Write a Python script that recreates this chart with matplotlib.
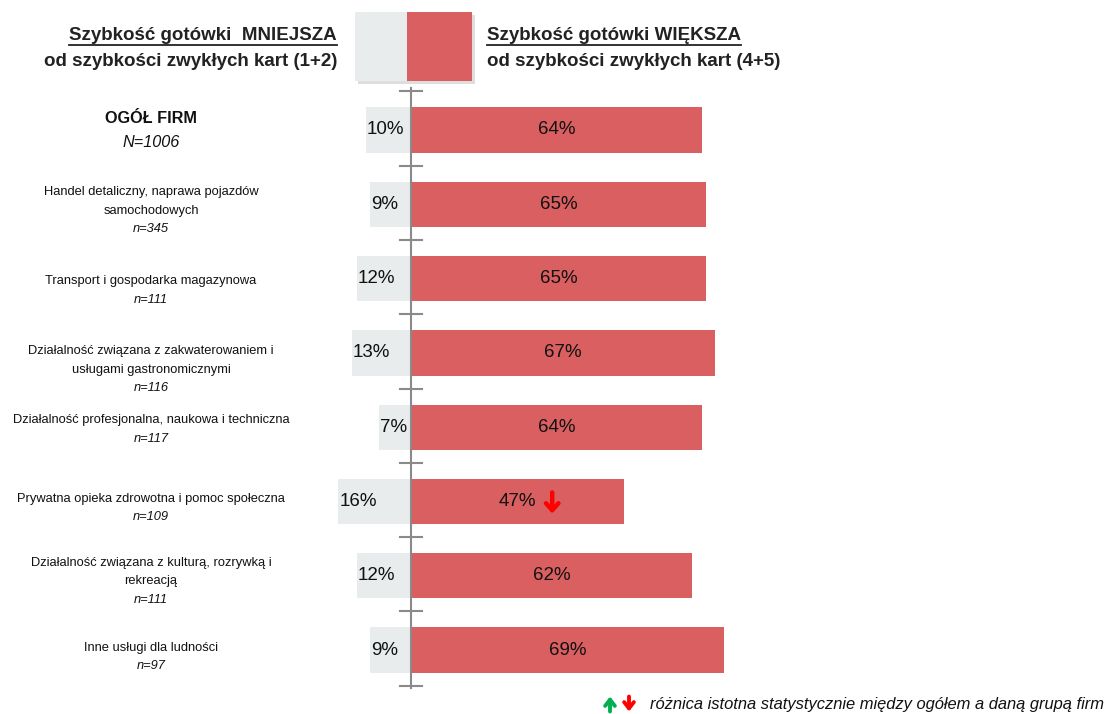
import matplotlib
matplotlib.use("Agg")
import matplotlib.pyplot as plt
from matplotlib.patches import Rectangle
from matplotlib.lines import Line2D

plt.rcParams['font.family'] = ['Liberation Sans', 'DejaVu Sans']

# ---------------- data ----------------
categories = [
    "OGÓŁ FIRM",
    "Handel detaliczny, naprawa pojazdów\nsamochodowych",
    "Transport i gospodarka magazynowa",
    "Działalność związana z zakwaterowaniem i\nusługami gastronomicznymi",
    "Działalność profesjonalna, naukowa i techniczna",
    "Prywatna opieka zdrowotna i pomoc społeczna",
    "Działalność związana z kulturą, rozrywką i\nrekreacją",
    "Inne usługi dla ludności",
]
sample_sizes = ["N=1006", "n=345", "n=111", "n=116", "n=117", "n=109", "n=111", "n=97"]
less_share = [10, 9, 12, 13, 7, 16, 12, 9]       # (1+2)
more_share = [64, 65, 65, 67, 64, 47, 62, 69]    # (4+5)
significance = [None, None, None, None, None, "down", None, None]

legend_less = "Szybkość gotówki  MNIEJSZA"
legend_less2 = "od szybkości zwykłych kart (1+2)"
legend_more = "Szybkość gotówki WIĘKSZA"
legend_more2 = "od szybkości zwykłych kart (4+5)"
footnote = "różnica istotna statystycznie między ogółem a daną grupą firm"

# ---------------- style ----------------
RED = "#D95F60"
GREY = "#E9ECEC"
AXC = "#8A8A8A"
TXT = "#111111"
W, H = 1109, 714
X0, XS = 411.0, 4.54     # pixel of 0 %, pixels per %
Y0, YS = 130.0, 74.3     # pixel of first row centre, pixels per row

fig = plt.figure(figsize=(W / 100, H / 100), dpi=100)
ax = fig.add_axes([0, 0, 1, 1])
ax.set_xlim(-X0 / XS, (W - X0) / XS)
ax.set_ylim((H - Y0) / YS, -Y0 / YS)
ax.axis("off")

def px(x):
    return (x - X0) / XS

def py(y):
    return (y - Y0) / YS

n = len(categories)
rows = list(range(n))
bh = 0.61

ax.barh(rows, [-v for v in less_share], height=bh, color=GREY, zorder=2)
ax.barh(rows, more_share, height=bh, color=RED, zorder=2)

# axis line and ticks
ax.plot([0, 0], [py(88), py(688)], color=AXC, lw=1.5, zorder=3)
for i in range(n + 1):
    t = i - 0.52
    ax.plot([px(400), px(422)], [t, t], color=AXC, lw=1.5, zorder=3)

def arrow(x, y, direction, color, size_px, lw=2.8, hw=0.35, hl=0.45):
    """Thick chevron arrow centred at data (x, y)."""
    h = size_px / YS / 2
    if direction == "down":
        start, end = (x, y - h), (x, y + h)
    else:
        start, end = (x, y + h), (x, y - h)
    ax.annotate("", xy=end, xytext=start,
                arrowprops=dict(arrowstyle=f"->,head_length={hl},head_width={hw}",
                                color=color, lw=lw, shrinkA=0, shrinkB=0),
                zorder=5)

label_off = [0.02, 0.09, 0.16, 0.23, 0.03, 0.09, 0.07, 0.09]
for i in rows:
    # values
    ax.text(-less_share[i] + 0.2, i, f"{less_share[i]}%", ha="left", va="center",
            fontsize=13.5, color=TXT, zorder=4)
    ax.text(more_share[i] / 2, i, f"{more_share[i]}%", ha="center", va="center",
            fontsize=13.5, color=TXT, zorder=4)
    if significance[i] is not None:
        arrow(more_share[i] / 2 + 7.6, i + 0.02, significance[i], "#FF0000", 21,
              lw=3.2, hw=0.45, hl=0.5)
    # category labels
    cx = px(151)
    if i == 0:
        ax.text(cx, i - 0.16, categories[i], ha="center", va="center",
                fontsize=11.7, fontweight="bold", color=TXT)
        ax.text(cx, i + 0.17, sample_sizes[i], ha="center", va="center",
                fontsize=11.7, style="italic", color=TXT)
    else:
        nlines = categories[i].count("\n") + 1
        total = nlines + 1
        lh = 18.5 / YS
        top = i + label_off[i] - (total - 1) * lh / 2
        for k, line in enumerate(categories[i].split("\n")):
            ax.text(cx, top + k * lh, line, ha="center", va="center",
                    fontsize=9.3, color=TXT)
        ax.text(cx, top + nlines * lh, sample_sizes[i], ha="center", va="center",
                fontsize=9.3, style="italic", color=TXT)

# legend box with shadow
ax.add_patch(Rectangle((px(358), py(84)), px(475) - px(358), py(15) - py(84),
                       facecolor="#C8C8C8", edgecolor="none", alpha=0.6, zorder=1))
ax.add_patch(Rectangle((px(355), py(81)), px(407) - px(355), py(12) - py(81),
                       facecolor=GREY, edgecolor="none", zorder=2))
ax.add_patch(Rectangle((px(407), py(81)), px(472) - px(407), py(12) - py(81),
                       facecolor=RED, edgecolor="none", zorder=2))

HC = "#222222"
t1 = ax.text(px(337), py(35), legend_less, ha="right", va="center",
             fontsize=13.5, fontweight="bold", color=HC)
ax.text(px(337), py(62), legend_less2, ha="right", va="center",
        fontsize=13.5, fontweight="bold", color=HC)
t2 = ax.text(px(487), py(35), legend_more, ha="left", va="center",
             fontsize=13.5, fontweight="bold", color=HC)
ax.text(px(487), py(62), legend_more2, ha="left", va="center",
        fontsize=13.5, fontweight="bold", color=HC)

# footnote
arrow(px(610), py(704), "up", "#00B050", 15)
arrow(px(629), py(704), "down", "#FF0000", 15)
ax.text(px(650), py(704), footnote, ha="left", va="center", fontsize=11.9,
        style="italic", color=TXT)

# underline headers
fig.canvas.draw()
r = fig.canvas.get_renderer()
for t in (t1, t2):
    bb = t.get_window_extent(renderer=r)
    y = bb.y0 - 1.5
    fig.add_artist(Line2D([bb.x0 / W, bb.x1 / W], [y / H, y / H],
                          color=HC, lw=1.3, transform=fig.transFigure))

fig.savefig("out.png", dpi=100)
